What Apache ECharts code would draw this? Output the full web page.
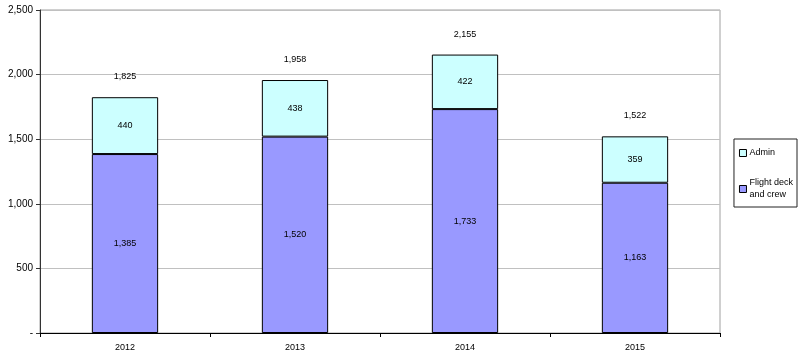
<!DOCTYPE html>
<html><head><meta charset="utf-8">
<script src="https://cdn.jsdelivr.net/npm/echarts@6/dist/echarts.min.js"></script>
<style>html,body{margin:0;padding:0;background:#fff}#c{width:800px;height:357px}</style>
</head><body><div id="c"></div>
<script>
const categories = ['2012','2013','2014','2015'];
const flightDeck = [1385, 1520, 1733, 1163];
const admin = [440, 438, 422, 359];
const totals = [1825, 1958, 2155, 1522];
const yTicks = [0, 500, 1000, 1500, 2000, 2500];

const fmt = v => v === 0 ? '-' : v.toLocaleString('en-US');
const font = 'Liberation Sans, Arial, sans-serif';
const chart = echarts.init(document.getElementById('c'));
chart.setOption({
  animation: false,
  textStyle: {fontFamily: font},
  grid: {left: 40, right: 80, top: 10, bottom: 24, show: true, borderColor: '#a0a0a0', borderWidth: 1},
  legend: {
    orient: 'vertical', right: 3, top: 139, width: 66,
    data: ['Admin', 'Flight deck and crew'],
    itemWidth: 7, itemHeight: 7, itemGap: 18,
    borderColor: '#222', borderWidth: 1, padding: [8, 4, 6, 5],
    icon: 'rect',
    itemStyle: {borderWidth: 1, borderColor: '#000'},
    textStyle: {fontSize: 9, color: '#000', fontFamily: font, lineHeight: 12, padding: [0,0,0,-2]},
    formatter: n => n === 'Flight deck and crew' ? 'Flight deck\nand crew' : n
  },
  xAxis: {
    type: 'category', data: categories,
    axisLine: {lineStyle: {color: '#000'}},
    axisTick: {show: true, length: 4, lineStyle: {color: '#000'}},
    axisLabel: {fontSize: 9, color: '#000', margin: 10}
  },
  yAxis: {
    type: 'value', min: 0, max: 2500, interval: 500,
    axisLine: {show: true, lineStyle: {color: '#333'}},
    axisTick: {show: true, length: 4, lineStyle: {color: '#333'}},
    splitLine: {lineStyle: {color: '#c0c0c0'}},
    axisLabel: {fontSize: 10, color: '#000', margin: 7, formatter: v => yTicks.includes(v) ? fmt(v) : ''}
  },
  series: [
    {
      name: 'Flight deck and crew', type: 'bar', stack: 's', data: flightDeck,
      barWidth: '39%',
      itemStyle: {color: '#9999ff', borderColor: '#000', borderWidth: 1},
      label: {show: true, position: 'inside', fontSize: 9, color: '#000', formatter: p => fmt(p.value)}
    },
    {
      name: 'Admin', type: 'bar', stack: 's', data: admin,
      itemStyle: {color: '#ccffff', borderColor: '#000', borderWidth: 1},
      label: {show: true, position: 'inside', fontSize: 9, color: '#000', formatter: p => fmt(p.value)}
    },
    {
      name: 'Total', type: 'bar', stack: 's', data: totals.map(() => 0),
      itemStyle: {color: 'transparent'},
      label: {show: true, position: 'top', distance: 16, fontSize: 9, color: '#000',
        formatter: p => fmt(totals[p.dataIndex])}
    }
  ]
});
</script></body></html>
